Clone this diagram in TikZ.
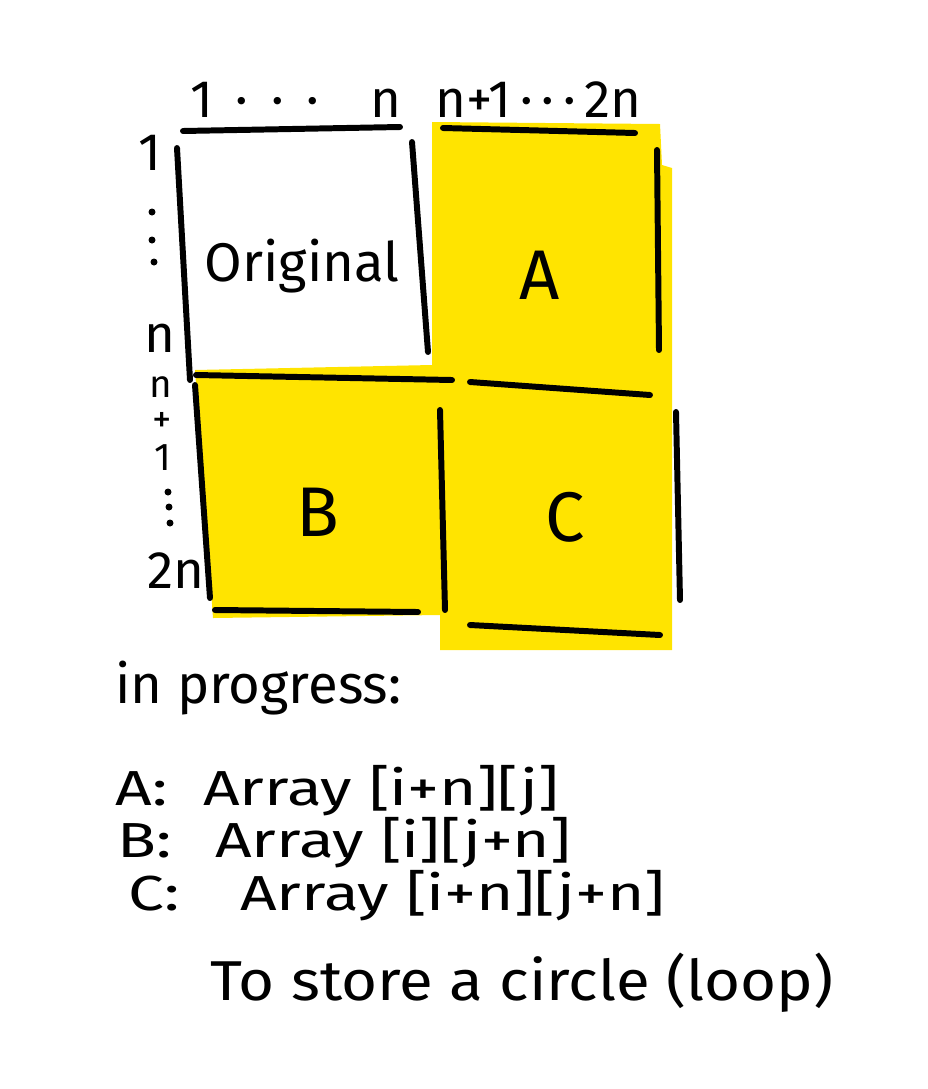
\documentclass[tikz,border=0pt]{standalone}
\usepackage{fontspec}
\setmainfont{Fira Sans}
\newfontfamily\handwide{Fira Sans}[FakeStretch=1.3]
\newfontfamily\handmid{Fira Sans}[FakeStretch=1.1]
\definecolor{hl}{RGB}{255,228,0}
\tikzset{
  pen/.style={line width=3.4pt, line cap=round, black},
  hand/.style={inner sep=0pt, font=\fontsize{30}{30}\selectfont},
  note/.style={inner sep=0pt, font=\handwide\fontsize{28}{28}\selectfont},
  stack/.style={inner sep=0pt, font=\fontsize{22}{22}\selectfont},
  big/.style={inner sep=0pt, font=\fontsize{40}{40}\selectfont},
  dotmark/.style={fill=black, draw=none}
}
\begin{document}
\begin{tikzpicture}[x=0.02cm, y=-0.02cm]
\useasboundingbox (0,0) rectangle (928,1089);
% yellow areas
\fill[hl] (432,122) -- (660,124) -- (662,165) -- (672,168) -- (672,650) -- (440,650) -- (440,615) -- (213,618) -- (195,370) -- (432,365) -- cycle;
% strokes
\draw[pen] (183,131) -- (400,127);
\draw[pen] (177,148) -- (190,380);
\draw[pen] (412,142) -- (428,352);
\draw[pen] (443,128) -- (635,133);
\draw[pen] (657,150) -- (659,350);
\draw[pen] (196,375) -- (452,380);
\draw[pen] (470,382) -- (650,395);
\draw[pen] (195,385) -- (210,598);
\draw[pen] (440,410) -- (445,610);
\draw[pen] (676,412) -- (680,600);
\draw[pen] (215,610) -- (418,612);
\draw[pen] (470,625) -- (660,635);
% top labels
\node[hand, anchor=base west] (t1) at (190,117) {1 \,·\, ·\, ·};
\node[hand, anchor=base west] (tn) at (370,117) {n};
\node[hand, anchor=base west] (tn1) at (435,117) {n+1\,·\,·\,·\,2n};
% left labels
\node[hand, anchor=base] (l1) at (150,170) {1};
\fill[dotmark] (152,212) circle (3.5);
\fill[dotmark] (152,240) circle (3.5);
\fill[dotmark] (154,262) circle (3.5);
\node[hand, anchor=base] (ln) at (160,352) {n};
\node[stack, anchor=base] (ln1a) at (161,397) {n};
\node[stack, anchor=base] (ln1b) at (162,432) {+};
\node[stack, anchor=base] (ln1c) at (163,470) {1};
\fill[dotmark] (168,492) circle (3.5);
\fill[dotmark] (169,507) circle (3.5);
\fill[dotmark] (170,523) circle (3.5);
\node[hand, anchor=base] (l2n) at (176,588) {2n};
% quadrant labels
\node[hand, font=\fontsize{31}{31}\selectfont] (orig) at (302,266) {Original};
\node[big] (qa) at (540,275) {A};
\node[big] (qb) at (318,512) {B};
\node[big] (qc) at (565,517) {C};
% notes
\node[hand, font=\fontsize{31}{31}\selectfont, anchor=base west] (prog) at (115,703) {in progress:};
\node[note, anchor=base west] (la) at (115,805) {A:};
\node[note, anchor=base west] (ea) at (203,805) {Array [i+n][j]};
\node[note, anchor=base west] (lb) at (117,857) {B:};
\node[note, anchor=base west] (eb) at (215,857) {Array [i][j+n]};
\node[note, anchor=base west] (lc) at (128,910) {C:};
\node[note, anchor=base west] (ec) at (240,910) {Array [i+n][j+n]};
\node[note, font=\handmid\fontsize{32}{32}\selectfont, anchor=base west] (store) at (210,1000) {To store a circle (loop)};
\end{tikzpicture}
\end{document}
